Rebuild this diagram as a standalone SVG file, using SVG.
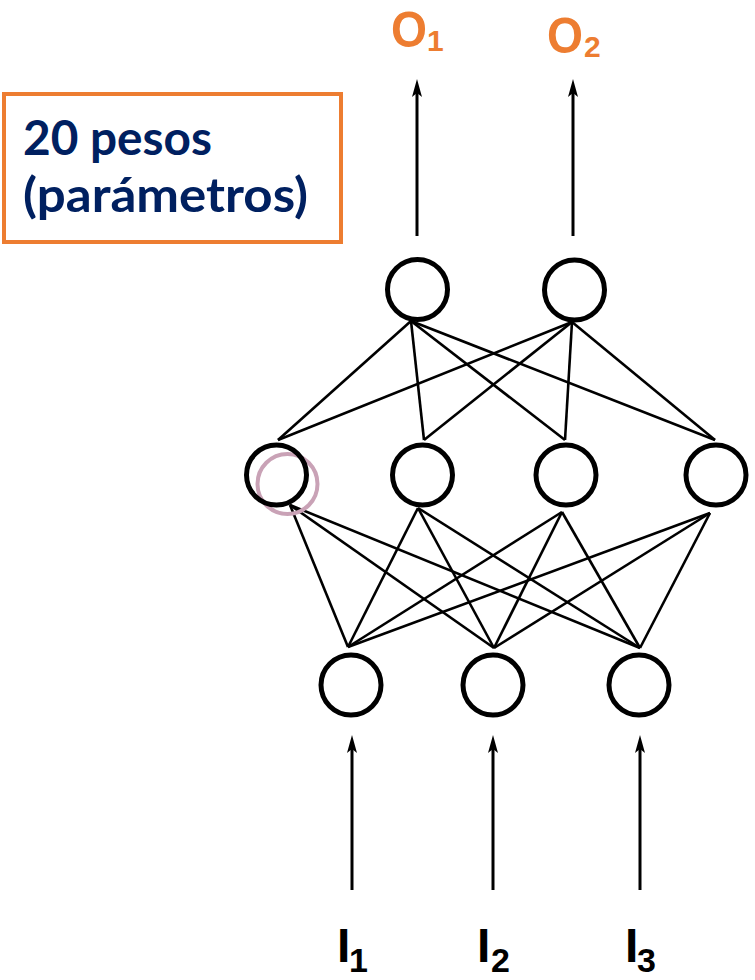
<svg xmlns="http://www.w3.org/2000/svg" width="755" height="980" viewBox="0 0 755 980">
<style>
.node{fill:#fff;stroke:#000;stroke-width:5}
.edge{stroke:#000;stroke-width:2.6;fill:none}
.arrow{stroke:#000;stroke-width:3;fill:none;marker-end:url(#ah)}
.lblO{font-family:"Liberation Sans",Arial,sans-serif;font-weight:bold;fill:#ED7D31}
.lblI{font-family:"Liberation Sans",Arial,sans-serif;font-weight:bold;fill:#000}
.box{font-family:Lato,"Open Sans","Liberation Sans",sans-serif;font-weight:bold;fill:#002060;font-size:47px}
</style>
<defs>
<marker id="ah" markerUnits="userSpaceOnUse" viewBox="0 0 18 10" refX="8" refY="5" markerWidth="18" markerHeight="10" orient="auto">
<path d="M0,0 L18,5 L0,10 L4,5 Z" fill="#000"/>
</marker>
</defs>
<rect width="755" height="980" fill="#fff"/>

<g id="note">
<rect x="4" y="94" width="337" height="148" fill="#fff" stroke="#ED7D31" stroke-width="4"/>
<text class="box" x="23" y="155" textLength="189" lengthAdjust="spacingAndGlyphs">20 pesos</text>
<text class="box" x="23" y="212" textLength="285" lengthAdjust="spacingAndGlyphs">(parámetros)</text>
</g>

<g id="connectors">
<line class="edge" x1="411" y1="321" x2="278" y2="440"/>
<line class="edge" x1="411" y1="321" x2="424" y2="440"/>
<line class="edge" x1="411" y1="321" x2="565" y2="440"/>
<line class="edge" x1="411" y1="321" x2="715" y2="440"/>
<line class="edge" x1="572" y1="322" x2="278" y2="440"/>
<line class="edge" x1="572" y1="322" x2="424" y2="440"/>
<line class="edge" x1="572" y1="322" x2="565" y2="440"/>
<line class="edge" x1="572" y1="322" x2="715" y2="440"/>

<line class="edge" x1="290" y1="505" x2="348" y2="647"/>
<line class="edge" x1="290" y1="505" x2="494" y2="648"/>
<line class="edge" x1="290" y1="505" x2="640" y2="648"/>
<line class="edge" x1="418" y1="508" x2="348" y2="647"/>
<line class="edge" x1="418" y1="508" x2="494" y2="648"/>
<line class="edge" x1="418" y1="508" x2="640" y2="648"/>
<line class="edge" x1="562" y1="512" x2="348" y2="647"/>
<line class="edge" x1="562" y1="512" x2="494" y2="648"/>
<line class="edge" x1="562" y1="512" x2="640" y2="648"/>
<line class="edge" x1="710" y1="513" x2="348" y2="647"/>
<line class="edge" x1="710" y1="513" x2="494" y2="648"/>
<line class="edge" x1="710" y1="513" x2="640" y2="648"/>

<line class="arrow" x1="417" y1="236" x2="417" y2="89"/>
<line class="arrow" x1="573" y1="236" x2="573" y2="89"/>
<line class="arrow" x1="352" y1="890" x2="352" y2="745"/>
<line class="arrow" x1="493" y1="890" x2="493" y2="745"/>
<line class="arrow" x1="640" y1="890" x2="640" y2="745"/>
</g>

<g id="highlight">
<circle cx="287.5" cy="484" r="30" fill="none" stroke="#C9A2B6" stroke-width="4"/>
</g>

<g id="out1"><circle class="node" cx="417.5" cy="289.5" r="30"/></g>
<g id="out2"><circle class="node" cx="574.5" cy="290" r="30"/></g>
<g id="hid1"><circle class="node" cx="276.5" cy="475" r="30" fill-opacity="0"/></g>
<g id="hid2"><circle class="node" cx="422.5" cy="475" r="30"/></g>
<g id="hid3"><circle class="node" cx="566" cy="475" r="30"/></g>
<g id="hid4"><circle class="node" cx="716" cy="475" r="30"/></g>
<g id="in1"><circle class="node" cx="351" cy="685" r="30"/></g>
<g id="in2"><circle class="node" cx="493" cy="685" r="30"/></g>
<g id="in3"><circle class="node" cx="639" cy="685" r="30"/></g>

<g id="labelO1"><text class="lblO" x="391" y="47" font-size="50" textLength="36" lengthAdjust="spacingAndGlyphs">O</text><text class="lblO" x="427" y="51" font-size="30">1</text></g>
<g id="labelO2"><text class="lblO" x="547" y="53" font-size="50" textLength="36" lengthAdjust="spacingAndGlyphs">O</text><text class="lblO" x="584" y="57" font-size="30">2</text></g>
<g id="labelI1"><text class="lblI" x="337" y="962" font-size="48">I</text><text class="lblI" x="349" y="972" font-size="34">1</text></g>
<g id="labelI2"><text class="lblI" x="477" y="962" font-size="48">I</text><text class="lblI" x="491" y="972" font-size="34">2</text></g>
<g id="labelI3"><text class="lblI" x="625" y="962" font-size="48">I</text><text class="lblI" x="637" y="972" font-size="34">3</text></g>
</svg>
